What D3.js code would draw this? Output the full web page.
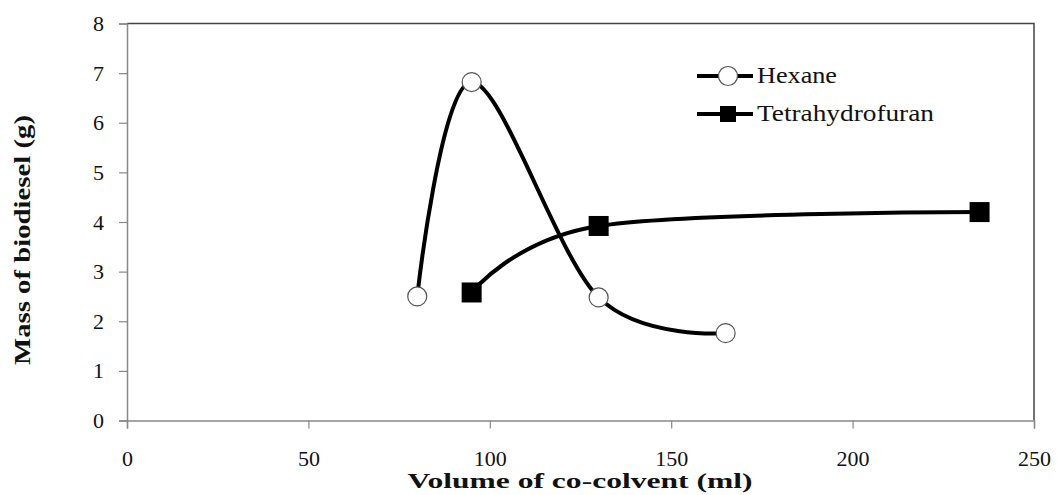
<!DOCTYPE html>
<html>
<head>
<meta charset="utf-8">
<script src="https://cdn.jsdelivr.net/npm/d3@7"></script>
<style>
  body { margin: 0; background: #fff; }
  text { font-family: "Liberation Serif", "Times New Roman", serif; }
</style>
</head>
<body>
<svg id="chart"></svg>
<script>
var hexaneX = [80, 95, 130, 165];
var hexaneY = [2.5, 6.82, 2.48, 1.76];
var thfX = [95, 130, 235];
var thfY = [2.58, 3.92, 4.2];
var xTicks = [0, 50, 100, 150, 200, 250];
var yTicks = [0, 1, 2, 3, 4, 5, 6, 7, 8];

function main() {
  var svgWidth = 1057, svgHeight = 495;
  var left = 127, right = 1034, top = 23.5, bottom = 420.5;
  var svg = d3.select("#chart").attr("width", svgWidth).attr("height", svgHeight);

  var x = d3.scaleLinear().domain([0, 250]).range([left, right]);
  var y = d3.scaleLinear().domain([0, 8]).range([bottom, top]);

  // plot box (top and right edges)
  svg.append("path")
    .attr("d", `M${left},${top}H${right}V${bottom}`)
    .attr("fill", "none")
    .attr("stroke", "#444")
    .attr("stroke-width", 1.5);

  var yAxis = svg.append("g")
    .attr("transform", `translate(${left},0)`)
    .call(d3.axisLeft(y).tickValues(yTicks).tickSize(8).tickPadding(15).tickFormat(d3.format("d")));
  var xAxis = svg.append("g")
    .attr("transform", `translate(0,${bottom})`)
    .call(d3.axisBottom(x).tickValues(xTicks).tickSize(8).tickPadding(22).tickFormat(d3.format("d")));

  [xAxis, yAxis].forEach(function (ax) {
    ax.select(".domain").attr("stroke", "#888").attr("stroke-width", 1.5);
    ax.selectAll(".tick line").attr("stroke", "#888").attr("stroke-width", 1.2);
    ax.selectAll(".tick text")
      .attr("font-family", "Liberation Serif, Times New Roman, serif")
      .attr("font-size", 22)
      .attr("fill", "#111");
  });

  var line = d3.line()
    .x((d) => x(d[0]))
    .y((d) => y(d[1]))
    .curve(d3.curveCatmullRom.alpha(0));

  var hexane = d3.zip(hexaneX, hexaneY);
  var thf = d3.zip(thfX, thfY);

  svg.append("path")
    .datum(thf)
    .attr("d", line)
    .attr("fill", "none")
    .attr("stroke", "#000")
    .attr("stroke-width", 4);
  svg.append("path")
    .datum(hexane)
    .attr("d", line)
    .attr("fill", "none")
    .attr("stroke", "#000")
    .attr("stroke-width", 4);

  svg.append("g")
    .selectAll("rect")
    .data(thf)
    .enter()
    .append("rect")
    .attr("x", (d) => x(d[0]) - 10)
    .attr("y", (d) => y(d[1]) - 10)
    .attr("width", 20)
    .attr("height", 20)
    .attr("fill", "#000");

  svg.append("g")
    .selectAll("circle")
    .data(hexane)
    .enter()
    .append("circle")
    .attr("cx", (d) => x(d[0]))
    .attr("cy", (d) => y(d[1]))
    .attr("r", 9.5)
    .attr("fill", "#fff")
    .attr("stroke", "#555")
    .attr("stroke-width", 1.2);

  // legend
  var legend = svg.append("g").attr("transform", "translate(697,76)");
  var items = [
    { name: "Hexane", shape: "circle", len: 80 },
    { name: "Tetrahydrofuran", shape: "square", len: 177 }
  ];
  items.forEach(function (it, i) {
    var g = legend.append("g").attr("transform", `translate(0,${i * 38})`);
    g.append("line").attr("x1", 0).attr("x2", 56).attr("y1", 0).attr("y2", 0)
      .attr("stroke", "#000").attr("stroke-width", 4);
    if (it.shape === "circle") {
      g.append("circle").attr("cx", 31).attr("cy", 0).attr("r", 9.5)
        .attr("fill", "#fff").attr("stroke", "#555").attr("stroke-width", 1.2);
    } else {
      g.append("rect").attr("x", 23).attr("y", -8).attr("width", 16).attr("height", 16).attr("fill", "#000");
    }
    g.append("text")
      .attr("x", 60)
      .attr("y", 7)
      .attr("font-size", 23)
      .attr("textLength", it.len)
      .attr("lengthAdjust", "spacingAndGlyphs")
      .attr("fill", "#111")
      .text(it.name);
  });

  svg.append("text")
    .attr("x", 580)
    .attr("y", 488)
    .attr("text-anchor", "middle")
    .attr("font-size", 21)
    .attr("font-weight", "bold")
    .attr("textLength", 345)
    .attr("lengthAdjust", "spacingAndGlyphs")
    .attr("fill", "#111")
    .text("Volume of co-colvent (ml)");

  svg.append("text")
    .attr("transform", "translate(30,240) rotate(-90)")
    .attr("text-anchor", "middle")
    .attr("font-size", 23)
    .attr("font-weight", "bold")
    .attr("textLength", 250)
    .attr("lengthAdjust", "spacingAndGlyphs")
    .attr("fill", "#111")
    .text("Mass of biodiesel (g)");
}
main();
</script>
</body>
</html>
